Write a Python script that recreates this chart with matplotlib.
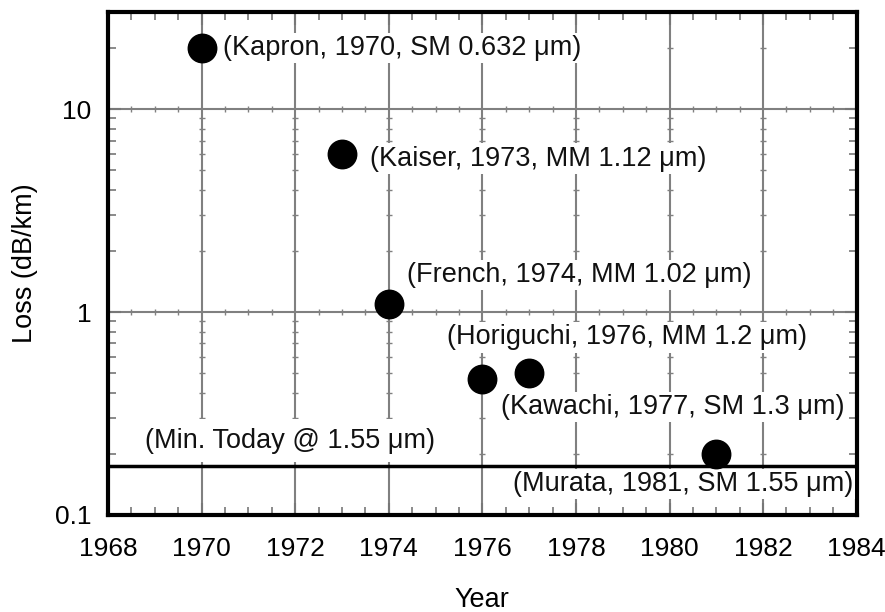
import numpy as np
import matplotlib
matplotlib.use('Agg')
from matplotlib import pyplot as plt
from matplotlib.ticker import MultipleLocator, LogLocator, NullFormatter, FixedLocator

plt.rcParams['font.family'] = ['Liberation Sans', 'DejaVu Sans']

# Record fibre losses
years = [1970, 1973, 1974, 1976, 1977, 1981]
losses = [20, 6, 1.1, 0.47, 0.5, 0.2]
labels = ['(Kapron, 1970, SM 0.632 μm)', '(Kaiser, 1973, MM 1.12 μm)',
          '(French, 1974, MM 1.02 μm)', '(Horiguchi, 1976, MM 1.2 μm)',
          '(Kawachi, 1977, SM 1.3 μm)', '(Murata, 1981, SM 1.55 μm)']
# label anchor (left edge, centre) in data units
label_x = [1970.45, 1973.6, 1974.4, 1975.25, 1976.4, 1976.65]
label_y = [20, 5.7, 1.52, 0.75, 0.34, 0.142]

min_today = 0.175
min_label = '(Min. Today @ 1.55 μm)'
min_label_pos = (1968.8, 0.232)

year_ticks = np.arange(1968, 1985, 2)

fig = plt.figure(figsize=(8.85, 6.12), dpi=100)
ax = fig.add_axes([0.122, 0.1585, 0.846, 0.8215])
ax.set_yscale('log')
ax.set_xlim(1968, 1984)
ax.set_ylim(0.1, 30)

ax.xaxis.set_major_locator(FixedLocator(year_ticks))
ax.xaxis.set_minor_locator(MultipleLocator(0.5))
ax.yaxis.set_minor_locator(LogLocator(base=10, subs=np.arange(2, 10)))
ax.yaxis.set_minor_formatter(NullFormatter())
ax.set_yticks([0.1, 1, 10])
ax.set_yticklabels(['0.1', '1', '10'])

ax.tick_params(which='both', direction='in', top=True, right=True, labelsize=19, color='#777777')
ax.tick_params(axis='x', which='major', length=9, width=1.5, pad=16)
ax.tick_params(axis='y', which='major', length=9, width=1.5, pad=12)
ax.tick_params(which='minor', length=6, width=1.2)
for sp in ax.spines.values():
    sp.set_linewidth(3)

# grid lines
gc = '#808080'
for yr in year_ticks[1:-1]:
    ax.axvline(yr, color=gc, lw=1.5, zorder=1)
for v in [1, 10]:
    ax.axhline(v, color=gc, lw=1.5, zorder=1)

# little cross ticks along the grid lines
ylo, yhi = ax.get_ylim()
yminor = [v for v in ax.yaxis.get_minorticklocs() if ylo < v < yhi]
for yr in year_ticks[1:-1]:
    ax.plot([yr] * len(yminor), yminor, ls='none', marker='_', ms=4, mew=1.0, color=gc, zorder=1)
xminor = [v for v in np.arange(1968, 1984.01, 0.5) if v % 2 != 0]
for v in [1, 10]:
    ax.plot(xminor, [v] * len(xminor), ls='none', marker='|', ms=4, mew=1.0, color=gc, zorder=1)

ax.axhline(min_today, color='black', lw=2.5, zorder=3)

ax.scatter(years, losses, s=420, color='black', zorder=5)

for t, x, y in zip(labels, label_x, label_y):
    ax.text(x, y, t, fontsize=19.5, ha='left', va='center', color='#111111', zorder=4,
            bbox=dict(facecolor='white', edgecolor='none', pad=1.5))
ax.text(min_label_pos[0], min_label_pos[1], min_label, fontsize=19.5, ha='left', va='center',
        color='#111111', zorder=2, bbox=dict(facecolor='white', edgecolor='none', pad=6))

ax.set_xlabel('Year', fontsize=19.5, va='center')
ax.set_ylabel('Loss (dB/km)', fontsize=19.5, va='center')
ax.xaxis.set_label_coords(0.5, -0.169)
ax.yaxis.set_label_coords(-0.111, 0.5)

plt.savefig('out.png', dpi=100)
